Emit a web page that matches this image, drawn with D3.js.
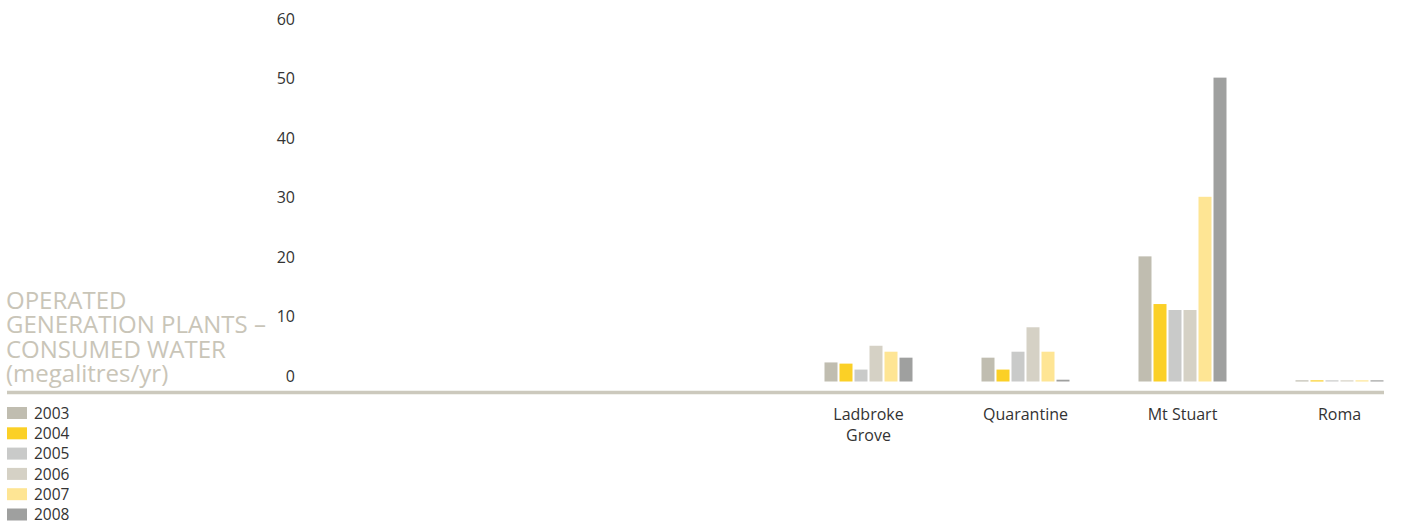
<!DOCTYPE html>
<html><head><meta charset="utf-8">
<script src="https://cdn.jsdelivr.net/npm/d3@7"></script>
<style>body{margin:0;background:#fff;} svg{display:block;}</style>
</head><body>
<svg id="c" width="1401" height="524"></svg>
<script>
const categories = ["Ladbroke Grove", "Quarantine", "Mt Stuart", "Roma"];
const years = ["2003", "2004", "2005", "2006", "2007", "2008"];
const v2003 = [3.2, 4, 21, 0.2];
const v2004 = [3, 2, 13, 0.2];
const v2005 = [2, 5, 12, 0.2];
const v2006 = [6, 9.1, 12, 0.2];
const v2007 = [5, 5, 31, 0.2];
const v2008 = [4, 0.3, 51, 0.2];
const yTicks = [0, 10, 20, 30, 40, 50, 60];
const titleLines = ["OPERATED", "GENERATION PLANTS \u2013", "CONSUMED WATER", "(megalitres/yr)"];
const colors = ["#c0bdb0", "#fbd026", "#c9cac9", "#d5d1c5", "#fee594", "#9fa09f"];

const series = [v2003, v2004, v2005, v2006, v2007, v2008];
const svg = d3.select("#c");
const font = "'Open Sans', sans-serif";

const y = d3.scaleLinear().domain([0, 60]).range([381.5, 24]);
const x = d3.scalePoint().domain(categories).range([868.5, 1339.5]);
const xi = d3.scaleBand().domain(years).range([-44, 44]).paddingInner(0.1333);

// bars
categories.forEach((c, ci) => {
  const g = svg.append("g").attr("transform", `translate(${x(c)},0)`);
  years.forEach((yr, si) => {
    const v = series[si][ci];
    g.append("rect")
      .attr("x", xi(yr))
      .attr("width", xi.bandwidth())
      .attr("y", y(v))
      .attr("height", Math.max(1, y(0) - y(v)))
      .attr("fill", colors[si]);
  });
});

// y axis labels
const yAxis = d3.axisLeft(y).tickValues(yTicks).tickSize(0).tickPadding(0);
const ya = svg.append("g").attr("transform", "translate(295,0)").call(yAxis);
ya.select(".domain").remove();
ya.selectAll("text").attr("dy", 0).attr("font-family", font).attr("font-size", 16).attr("fill", "#333");

// baseline
svg.append("line").attr("x1", 7).attr("x2", 1384).attr("y1", 392.5).attr("y2", 392.5)
  .attr("stroke", "#ccc9bd").attr("stroke-width", 3.5);

// category labels
categories.forEach(c => {
  const words = c === "Ladbroke Grove" ? ["Ladbroke", "Grove"] : [c];
  const t = svg.append("text").attr("text-anchor", "middle").attr("font-family", font)
    .attr("font-size", 16).attr("fill", "#333");
  words.forEach((w, i) => t.append("tspan").attr("x", x(c)).attr("y", 420 + i * 21).text(w));
});

// title
const tt = svg.append("text").attr("font-family", font).attr("font-size", 24).attr("fill", "#c9c5b8");
titleLines.forEach((l, i) => tt.append("tspan").attr("x", 6).attr("y", 308.5 + i * 24.5).text(l));

// legend
years.forEach((yr, i) => {
  const ly = 407 + i * 20.3;
  svg.append("rect").attr("x", 7).attr("y", ly).attr("width", 20).attr("height", 12).attr("fill", colors[i]);
  svg.append("text").attr("x", 34).attr("y", ly + 11.6).attr("font-family", font)
    .attr("font-size", 15.5).attr("fill", "#333").text(yr);
});
</script>
</body></html>
